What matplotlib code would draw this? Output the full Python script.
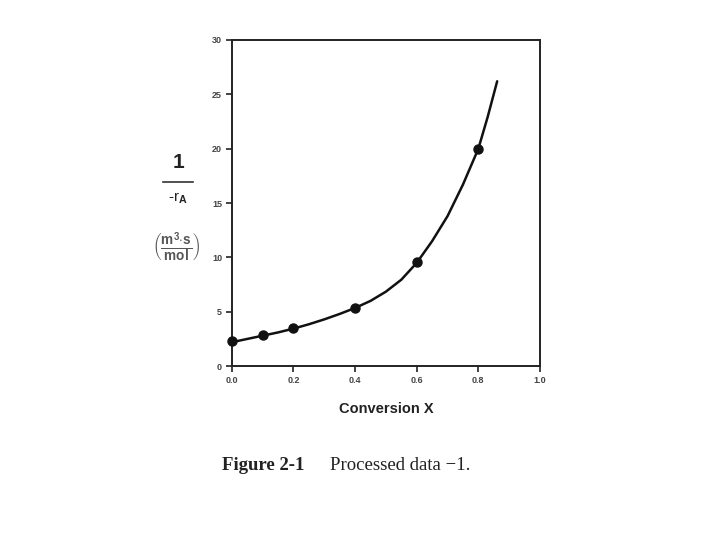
import numpy as np
import matplotlib
matplotlib.use("Agg")
import matplotlib.pyplot as plt
from matplotlib.lines import Line2D

# measured points
conv = [0.0, 0.1, 0.2, 0.4, 0.6, 0.8]
inv_rate = [2.3, 2.85, 3.47, 5.35, 9.55, 20.0]

# smooth curve
curve_x = [0.0, 0.05, 0.1, 0.15, 0.2, 0.25, 0.3, 0.35, 0.4, 0.45, 0.5,
           0.55, 0.6, 0.65, 0.7, 0.75, 0.8, 0.83, 0.861]
curve_y = [2.2, 2.5, 2.8, 3.1, 3.45, 3.85, 4.3, 4.8, 5.35, 6.0, 6.85,
           7.95, 9.5, 11.5, 13.8, 16.7, 20.0, 22.9, 26.2]

xticks = [0.0, 0.2, 0.4, 0.6, 0.8, 1.0]
yticks = [0, 5, 10, 15, 20, 25, 30]

plt.rcParams["font.family"] = ["Liberation Sans", "DejaVu Sans"]
plt.rcParams["mathtext.fontset"] = "custom"
plt.rcParams["mathtext.rm"] = "Liberation Sans:bold"
plt.rcParams["mathtext.it"] = "Liberation Sans:bold"

fig = plt.figure(figsize=(7.2, 5.4), dpi=100)
ax = fig.add_axes([0.322, 0.322, 0.428, 0.604])

ax.plot(curve_x, curve_y, color="#111111", lw=1.8, solid_capstyle="round",
        solid_joinstyle="round")
ax.plot(conv, inv_rate, "o", color="#111111", ms=6.5, clip_on=False, zorder=3)

ax.set_xlim(0, 1.0)
ax.set_ylim(0, 30)
ax.set_xticks(xticks)
ax.set_xticklabels([f"{v:.1f}" for v in xticks])
ax.set_yticks(yticks)
for s in ax.spines.values():
    s.set_linewidth(1.4)
    s.set_color("#222222")
ax.tick_params(direction="out", length=4, width=1.2, colors="#222222",
               labelsize=6.5, pad=3)
for lab in ax.get_xticklabels() + ax.get_yticklabels():
    lab.set_fontweight("bold")
    lab.set_color("#444444")

ax.set_xlabel("Conversion X", fontsize=10.5, fontweight="bold", labelpad=12,
              color="#222222")

# y label: 1 / -r_A  (m^3 s / mol)
fig.text(178 / 720, 1 - 162 / 540, "1", fontsize=15, fontweight="bold",
         ha="center", va="center", color="#222222")
fig.add_artist(Line2D([163 / 720, 193 / 720], [1 - 182 / 540, 1 - 182 / 540],
                      color="#333333", lw=1.2, transform=fig.transFigure))
fig.text(178 / 720, 1 - 198 / 540, r"-r$_\mathrm{A}$", fontsize=11,
         ha="center", va="center", color="#222222")
fig.text(176 / 720, 1 - 247 / 540,
         r"$\left(\frac{\mathrm{m^3{\cdot}s}}{\mathrm{mol}}\right)$",
         fontsize=14, ha="center", va="center", color="#555555")

fig.text(222 / 720, 1 - 465 / 540, "Figure 2-1", fontsize=13.5,
         fontweight="bold", family="Liberation Serif", ha="left",
         va="center", color="#222222")
fig.text(330 / 720, 1 - 465 / 540, "Processed data \u22121.", fontsize=13.5,
         family="Liberation Serif", ha="left", va="center", color="#222222")

fig.savefig("out.png", dpi=100)
